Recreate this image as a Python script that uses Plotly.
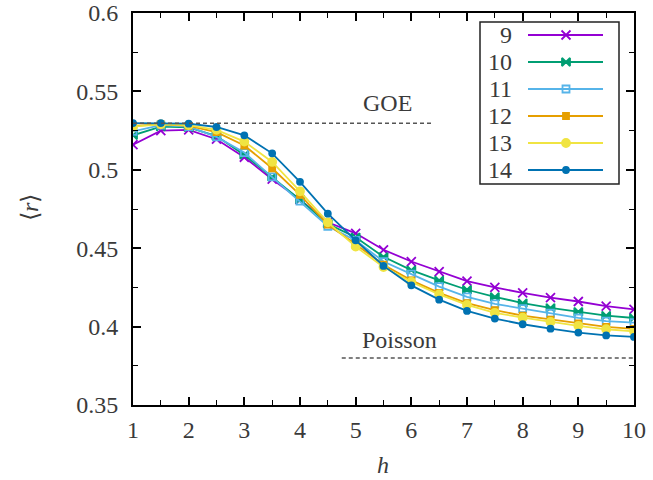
import plotly.graph_objects as go

# ---------------- data ----------------
h = [1, 1.5, 2, 2.5, 3, 3.5, 4, 4.5, 5, 5.5, 6, 6.5, 7, 7.5, 8, 8.5, 9, 9.5, 10]

r9 = [0.516, 0.525, 0.5255, 0.5195, 0.508, 0.494, 0.481, 0.4665, 0.4595, 0.449,
      0.4415, 0.435, 0.429, 0.425, 0.4215, 0.4185, 0.416, 0.413, 0.411]
r10 = [0.522, 0.5275, 0.527, 0.5215, 0.5095, 0.4955, 0.481, 0.4655, 0.457, 0.4445,
       0.436, 0.4295, 0.4235, 0.419, 0.415, 0.412, 0.4095, 0.407, 0.4055]
r11 = [0.5245, 0.5285, 0.5275, 0.521, 0.511, 0.4955, 0.4800, 0.4640, 0.455, 0.4415,
       0.4335, 0.4255, 0.419, 0.4145, 0.4115, 0.4085, 0.4055, 0.4035, 0.4025]
r12 = [0.528, 0.529, 0.528, 0.524, 0.5155, 0.501, 0.484, 0.465, 0.4525, 0.4395,
       0.4295, 0.4215, 0.415, 0.4105, 0.407, 0.4045, 0.402, 0.3998, 0.3985]
r13 = [0.5275, 0.529, 0.5285, 0.5255, 0.518, 0.505, 0.4863, 0.4665, 0.451, 0.438,
       0.4285, 0.4205, 0.4138, 0.4088, 0.4057, 0.403, 0.4005, 0.3983, 0.397]
r14 = [0.5298, 0.5298, 0.5294, 0.5273, 0.522, 0.5105, 0.4923, 0.472, 0.455, 0.4387,
       0.4263, 0.4172, 0.41, 0.4051, 0.4015, 0.3987, 0.3962, 0.3944, 0.3934]

labels = ["9", "10", "11", "12", "13", "14"]
series = [r9, r10, r11, r12, r13, r14]

goe_value = 0.5297
poisson_value = 0.380
goe_span = [1, 6.4]
poisson_span = [4.75, 10]

x_ticks = [1, 2, 3, 4, 5, 6, 7, 8, 9, 10]
y_ticks = [0.35, 0.4, 0.45, 0.5, 0.55, 0.6]
y_tick_text = ["0.35", "0.4", "0.45", "0.5", "0.55", "0.6"]

# ---------------- styles ----------------
colors = ["#9400d3", "#009e73", "#56b4e9", "#e69f00", "#f0e442", "#0072b2"]
symbols = ["x-thin-open", "bowtie", "square-open", "square", "circle", "circle"]
msizes = [9, 8, 7, 6, 8, 6]
FONT = "Liberation Serif"
TXT = "#3a3a3a"
FS = 24

W, H = 653, 480
L, R, T, B = 133, 19, 13, 75
pw, ph = W - L - R, H - T - B


def px_to_paper(px, py):
    return (px - L) / pw, (H - B - py) / ph


fig = go.Figure()

for lab, ys, c, s, ms in zip(labels, series, colors, symbols, msizes):
    fig.add_trace(go.Scatter(
        x=h, y=ys, mode="lines+markers", name=lab, showlegend=False,
        line=dict(color=c, width=1.8),
        marker=dict(symbol=s, size=ms, color=c, line=dict(color=c, width=1.8)),
    ))

# reference lines
fig.add_shape(type="line", xref="x", yref="y", x0=goe_span[0], x1=goe_span[1],
              y0=goe_value, y1=goe_value, line=dict(color="#555", width=1.6, dash="4px,3px"))
fig.add_shape(type="line", xref="x", yref="y", x0=poisson_span[0], x1=poisson_span[1],
              y0=poisson_value, y1=poisson_value, line=dict(color="#555", width=1.6, dash="4px,3px"))
fig.add_annotation(x=5.57, y=goe_value, yshift=20, text="GOE", showarrow=False,
                   font=dict(family=FONT, size=FS, color=TXT), xref="x", yref="y")
fig.add_annotation(x=5.78, y=poisson_value, yshift=18, text="Poisson", showarrow=False,
                   font=dict(family=FONT, size=FS, color=TXT), xref="x", yref="y")

# custom legend (gnuplot style: label left, sample right)
box_x0, box_y0 = px_to_paper(480, 184)
box_x1, box_y1 = px_to_paper(619, 22)
fig.add_shape(type="rect", xref="paper", yref="paper", x0=box_x0, y0=box_y0, x1=box_x1, y1=box_y1,
              line=dict(color="#222", width=1.5), fillcolor="white", layer="below")
row_y = [35, 62, 89, 116, 143, 170]
for lab, c, s, ms, py in zip(labels, colors, symbols, msizes, row_y):
    lx0, ly = px_to_paper(528, py)
    lx1, _ = px_to_paper(603, py)
    mx, _ = px_to_paper(566, py)
    tx, _ = px_to_paper(514, py)
    fig.add_trace(go.Scatter(x=[lx0, lx1], y=[ly, ly], mode="lines", xaxis="x2", yaxis="y2",
                             line=dict(color=c, width=1.8), showlegend=False, hoverinfo="skip"))
    fig.add_trace(go.Scatter(x=[mx], y=[ly], mode="markers", xaxis="x2", yaxis="y2",
                             marker=dict(symbol=s, size=ms, color=c, line=dict(color=c, width=1.8)),
                             showlegend=False, hoverinfo="skip"))
    fig.add_annotation(x=tx, y=ly, xref="paper", yref="paper", text=lab, showarrow=False,
                       xanchor="right", yanchor="middle",
                       font=dict(family=FONT, size=FS, color=TXT))

# axis titles
ax_x, ax_y = px_to_paper(383, 465)
fig.add_annotation(x=ax_x, y=ax_y, xref="paper", yref="paper", text="<i>h</i>", showarrow=False,
                   xanchor="center", yanchor="middle",
                   font=dict(family=FONT, size=FS, color=TXT))
ay_x, ay_y = px_to_paper(30, 208)
fig.add_annotation(x=ay_x, y=ay_y, xref="paper", yref="paper", text="⟨<i>r</i>⟩", showarrow=False,
                   xanchor="center", yanchor="middle",
                   textangle=-90, font=dict(family=FONT, size=FS, color=TXT))

axis_common = dict(
    showline=True, linecolor="black", linewidth=2, mirror="allticks",
    ticks="inside", ticklen=8, tickwidth=1.5, tickcolor="black",
    showgrid=False, zeroline=False, automargin=False,
    tickfont=dict(family=FONT, size=FS, color=TXT),
)

fig.update_layout(
    width=W, height=H,
    margin=dict(l=L, r=R, t=T, b=B, autoexpand=False),
    plot_bgcolor="white", paper_bgcolor="white",
    font=dict(family=FONT),
    xaxis=dict(range=[1, 10], tickvals=x_ticks, ticklabelstandoff=2,
               minor=dict(dtick=0.5, ticks="inside", ticklen=5, tickcolor="black", tickwidth=1.2),
               **axis_common),
    yaxis=dict(range=[0.35, 0.6], tickvals=y_ticks, ticktext=y_tick_text, ticklabelstandoff=8,
               minor=dict(dtick=0.025, tick0=0.35, ticks="inside", ticklen=5, tickcolor="black", tickwidth=1.2),
               **axis_common),
    xaxis2=dict(overlaying="x", range=[0, 1], visible=False, domain=[0, 1]),
    yaxis2=dict(overlaying="y", range=[0, 1], visible=False, domain=[0, 1]),
    showlegend=False,
)

fig.write_html("out.html")
